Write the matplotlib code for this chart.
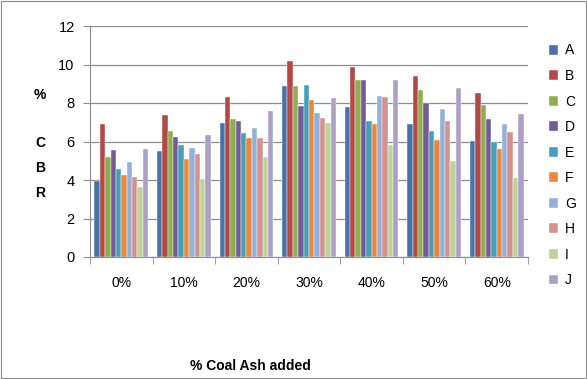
import numpy as np
from matplotlib import pyplot as plt
from matplotlib.patches import Rectangle

plt.rcParams['font.family'] = ['Liberation Sans', 'DejaVu Sans']

categories = ['0%', '10%', '20%', '30%', '40%', '50%', '60%']
series = ['A', 'B', 'C', 'D', 'E', 'F', 'G', 'H', 'I', 'J']
A = [3.95, 5.51, 6.94, 8.87, 7.77, 6.89, 6.02]
B = [6.89, 7.37, 8.30, 10.16, 9.86, 9.39, 8.52]
C = [5.20, 6.52, 7.17, 8.90, 9.17, 8.70, 7.90]
D = [5.57, 6.24, 7.04, 7.86, 9.17, 8.02, 7.17]
E = [4.56, 5.81, 6.45, 8.96, 7.08, 6.56, 6.00]
F = [4.24, 5.11, 6.16, 8.17, 6.90, 6.09, 5.60]
G = [4.94, 5.67, 6.71, 7.48, 8.38, 7.69, 6.90]
H = [4.16, 5.34, 6.19, 7.20, 8.30, 7.04, 6.47]
I = [3.63, 4.07, 5.20, 6.94, 5.84, 4.99, 4.12]
J = [5.60, 6.33, 7.60, 8.24, 9.17, 8.78, 7.43]
values = [A, B, C, D, E, F, G, H, I, J]
colors = ['#4673AE', '#B34845', '#8FAE4F', '#745A96', '#43A0B8', '#E8873D',
          '#94B0D8', '#D6918F', '#BCD497', '#ADA0C6']

fig = plt.figure(figsize=(5.87, 3.79), dpi=100)
ax = fig.add_axes([90/587, 1-257/379, 438/587, 231/379])

x = np.arange(len(categories))
w = 0.086
for k, (name, vals) in enumerate(zip(series, values)):
    ax.bar(x + (k - 4.5) * w, vals, w, color=colors[k], label=name,
           edgecolor='white', linewidth=0.3, zorder=3)

ax.set_xlim(-0.5, len(categories) - 0.5)
ax.set_ylim(0, 12)
ax.set_yticks(np.arange(0, 13, 2))
ax.yaxis.grid(True, color='#8c8c8c', linewidth=0.9, zorder=0)
ax.set_xticks(x)
ax.set_xticklabels(categories, fontsize=10)
ax.set_xticks(np.arange(-0.5, len(categories)), minor=True)
ax.tick_params(axis='x', which='major', length=0, pad=14)
ax.tick_params(axis='x', which='minor', length=5, color='#8c8c8c')
ax.tick_params(axis='y', length=5, color='#8c8c8c', labelsize=10.5, pad=6)
for s in ['top', 'right']:
    ax.spines[s].set_visible(False)
ax.spines['left'].set_color('#8c8c8c')
ax.spines['bottom'].set_color('#8c8c8c')

fig.text(40/587, 1-95/379, '%', fontsize=10, fontweight='bold', ha='center', va='center')
for lab, yy in zip(['C', 'B', 'R'], [143, 168, 193]):
    fig.text(40/587, 1-yy/379, lab, fontsize=10, fontweight='bold', ha='center', va='center')
fig.text(250/587, 1-366/379, '% Coal Ash added', fontsize=10, fontweight='bold',
         ha='center', va='center')

ax.legend(loc='upper left', bbox_to_anchor=(536/587, 1-31/379), bbox_transform=fig.transFigure,
          frameon=False, fontsize=10, handlelength=0.7, handleheight=0.7,
          labelspacing=0.83, handletextpad=0.5)

fig.patches.append(Rectangle((0.001, 0.002), 0.997, 0.996, transform=fig.transFigure,
                             fill=False, edgecolor='#8c8c8c', linewidth=0.8))

fig.savefig('out.png', dpi=100)
